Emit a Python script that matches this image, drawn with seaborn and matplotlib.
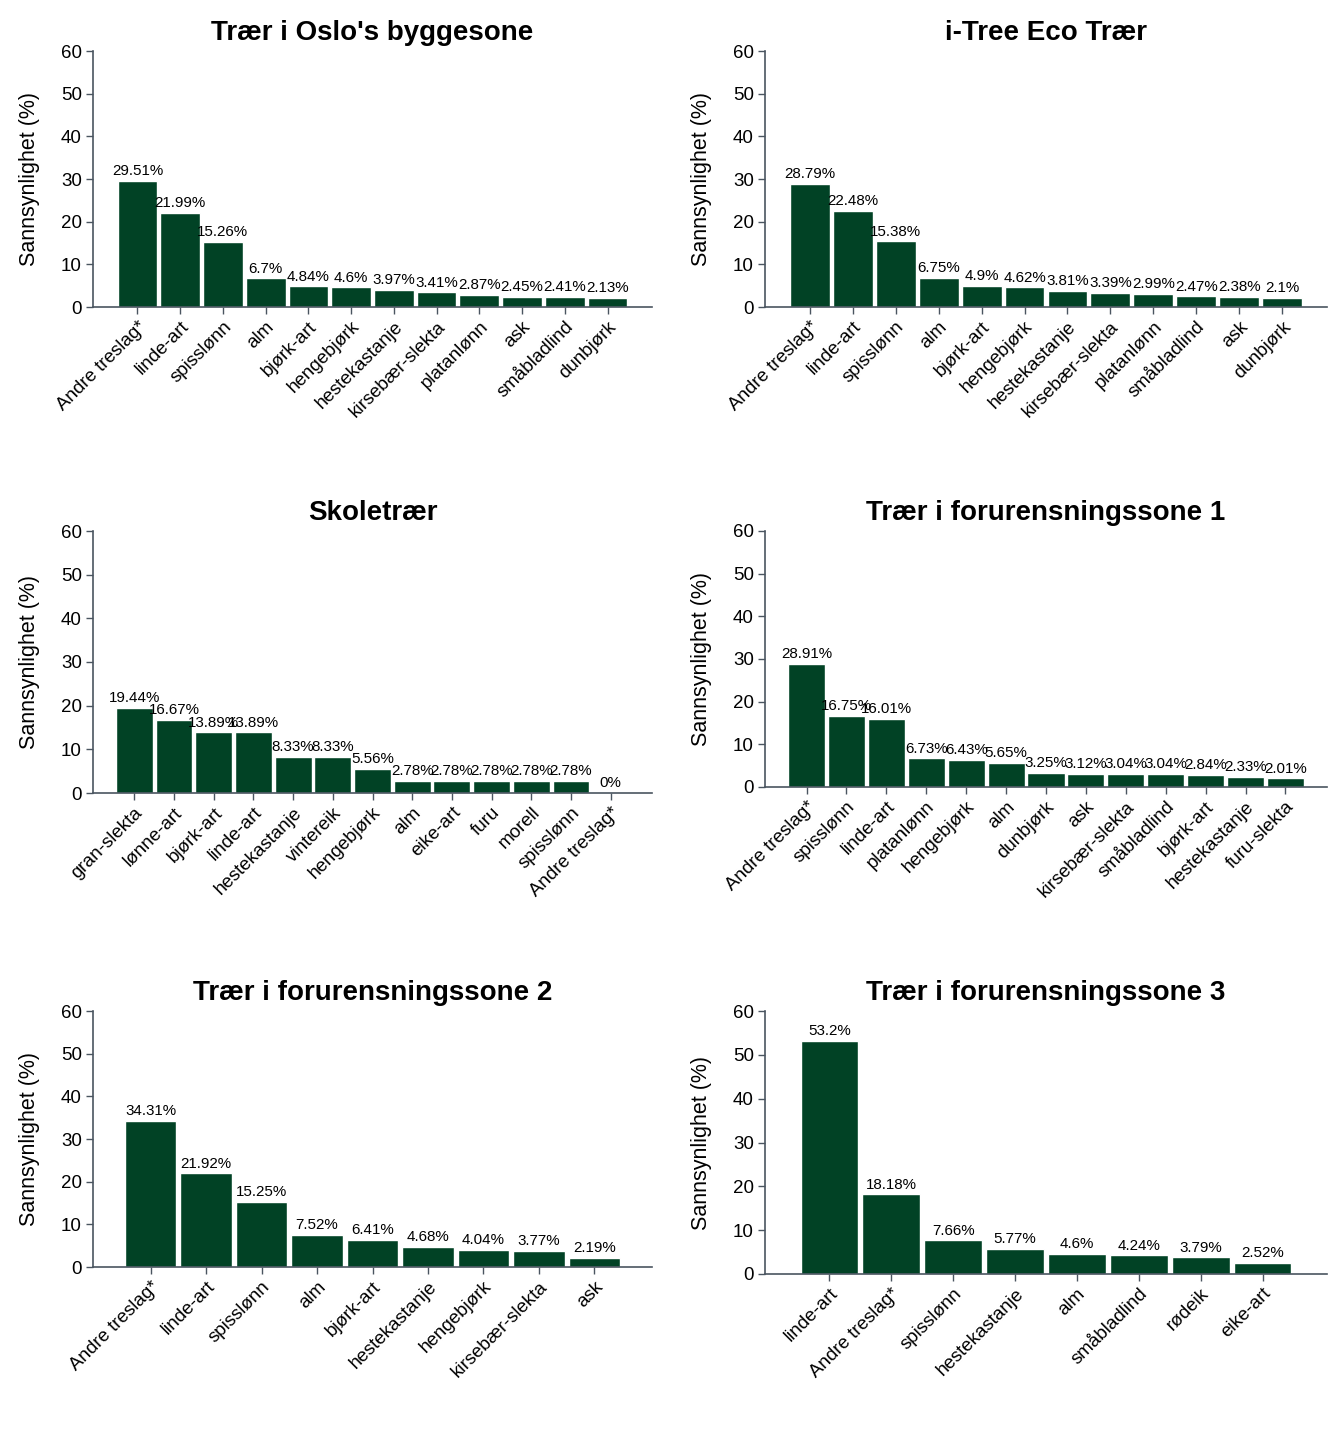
import matplotlib
matplotlib.use("Agg")
import matplotlib.pyplot as plt
import seaborn as sns
import pandas as pd

# --- data -------------------------------------------------------------
oslo_names = ["Andre treslag*", "linde-art", "spisslønn", "alm", "bjørk-art", "hengebjørk",
              "hestekastanje", "kirsebær-slekta", "platanlønn", "ask", "småbladlind", "dunbjørk"]
oslo_vals = [29.51, 21.99, 15.26, 6.7, 4.84, 4.6, 3.97, 3.41, 2.87, 2.45, 2.41, 2.13]

itree_names = ["Andre treslag*", "linde-art", "spisslønn", "alm", "bjørk-art", "hengebjørk",
               "hestekastanje", "kirsebær-slekta", "platanlønn", "småbladlind", "ask", "dunbjørk"]
itree_vals = [28.79, 22.48, 15.38, 6.75, 4.9, 4.62, 3.81, 3.39, 2.99, 2.47, 2.38, 2.1]

skole_names = ["gran-slekta", "lønne-art", "bjørk-art", "linde-art", "hestekastanje", "vintereik",
               "hengebjørk", "alm", "eike-art", "furu", "morell", "spisslønn", "Andre treslag*"]
skole_vals = [19.44, 16.67, 13.89, 13.89, 8.33, 8.33, 5.56, 2.78, 2.78, 2.78, 2.78, 2.78, 0]

sone1_names = ["Andre treslag*", "spisslønn", "linde-art", "platanlønn", "hengebjørk", "alm",
               "dunbjørk", "ask", "kirsebær-slekta", "småbladlind", "bjørk-art", "hestekastanje",
               "furu-slekta"]
sone1_vals = [28.91, 16.75, 16.01, 6.73, 6.43, 5.65, 3.25, 3.12, 3.04, 3.04, 2.84, 2.33, 2.01]

sone2_names = ["Andre treslag*", "linde-art", "spisslønn", "alm", "bjørk-art", "hestekastanje",
               "hengebjørk", "kirsebær-slekta", "ask"]
sone2_vals = [34.31, 21.92, 15.25, 7.52, 6.41, 4.68, 4.04, 3.77, 2.19]

sone3_names = ["linde-art", "Andre treslag*", "spisslønn", "hestekastanje", "alm", "småbladlind",
               "rødeik", "eike-art"]
sone3_vals = [53.2, 18.18, 7.66, 5.77, 4.6, 4.24, 3.79, 2.52]

titles = ["Trær i Oslo's byggesone", "i-Tree Eco Trær", "Skoletrær",
          "Trær i forurensningssone 1", "Trær i forurensningssone 2", "Trær i forurensningssone 3"]

panels = [(oslo_names, oslo_vals), (itree_names, itree_vals), (skole_names, skole_vals),
          (sone1_names, sone1_vals), (sone2_names, sone2_vals), (sone3_names, sone3_vals)]

# --- style ------------------------------------------------------------
sns.set_style("ticks")
plt.rcParams['font.family'] = ['Liberation Sans', 'DejaVu Sans']
plt.rcParams['text.color'] = 'black'
plt.rcParams['axes.labelcolor'] = 'black'
plt.rcParams['xtick.labelcolor'] = 'black'
plt.rcParams['ytick.labelcolor'] = 'black'

BAR = "#014225"
AXC = "#4a5560"
W, H = 1344, 1440

# axes boxes in pixels: left, right, top, bottom
boxes = [(93, 652, 51, 307), (765, 1327, 51, 307),
         (93, 652, 531, 793), (765, 1327, 531, 787),
         (93, 652, 1011, 1267), (765, 1327, 1011, 1274)]

fig = plt.figure(figsize=(W / 100, H / 100), dpi=100)

for (names, vals), title, (l, r, t, b) in zip(panels, titles, boxes):
    ax = fig.add_axes([l / W, 1 - b / H, (r - l) / W, (b - t) / H])
    df = pd.DataFrame({"art": names, "pct": vals})
    sns.barplot(data=df, x="art", y="pct", order=names, color=BAR, saturation=1,
                width=0.93, ax=ax)
    n = len(names)
    ax.set_xlim(-1.04, n - 1 + 1.04)
    ax.set_ylim(0, 60)
    ax.set_yticks([0, 10, 20, 30, 40, 50, 60])
    ax.set_xlabel("")
    ax.set_ylabel("Sannsynlighet (%)", fontsize=15.5, labelpad=15)
    ax.set_title(title, fontsize=20, fontweight="bold", pad=8)
    ax.bar_label(ax.containers[0], labels=[f"{v:g}%" for v in vals], padding=2, fontsize=10.9)
    ax.tick_params(axis="y", labelsize=13.5, length=5, color=AXC, width=1, pad=3)
    ax.tick_params(axis="x", labelsize=13.5, length=5, color=AXC, width=1, pad=3)
    plt.setp(ax.get_xticklabels(), rotation=45, ha="right", rotation_mode="anchor")
    sns.despine(ax=ax)
    for s in ["left", "bottom"]:
        ax.spines[s].set_color(AXC)
        ax.spines[s].set_linewidth(1.2)

fig.savefig("out.png", dpi=100)
